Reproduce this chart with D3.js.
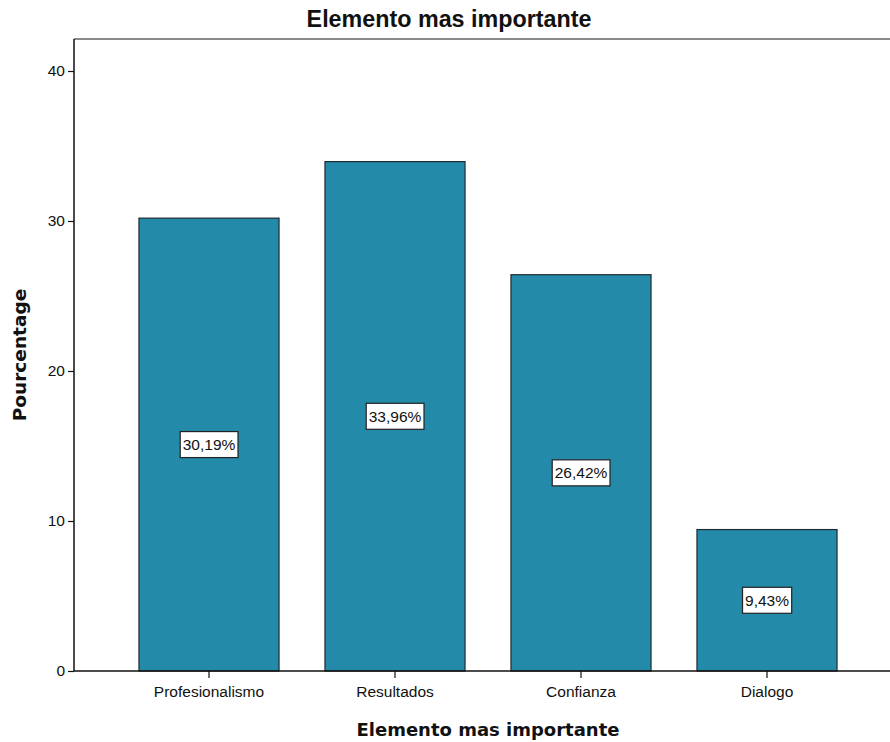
<!DOCTYPE html>
<html>
<head>
<meta charset="utf-8">
<script src="https://cdn.jsdelivr.net/npm/d3@7"></script>
<style>
  html, body { margin: 0; padding: 0; background: #fff; }
  svg { display: block; font-family: Arial, "Liberation Sans", sans-serif; }
</style>
</head>
<body>
<svg id="chart" width="890" height="742"></svg>
<script>
// Chart data
const categories = ["Profesionalismo", "Resultados", "Confianza", "Dialogo"];
const percentages = [30.19, 33.96, 26.42, 9.43];
const yTicks = [0, 10, 20, 30, 40];
const chartTitle = "Elemento mas importante";
const xTitle = "Elemento mas importante";
const yTitle = "Pourcentage";

const svg = d3.select("#chart");
const plot = { left: 74, right: 892, top: 39, bottom: 671 };
const bodyFont = "Arial, 'Liberation Sans', sans-serif";
const axisTitleFont = "'DejaVu Sans', Verdana, sans-serif";

const x = d3.scaleBand()
  .domain(categories)
  .range([116, 860])
  .paddingInner(0.247)
  .paddingOuter(0.1235);

const y = d3.scaleLinear()
  .domain([0, 40])
  .range([plot.bottom, 71]);

// Plot frame (top edge)
svg.append("line")
  .attr("x1", plot.left).attr("x2", plot.right)
  .attr("y1", plot.top).attr("y2", plot.top)
  .attr("stroke", "#8a8a8a").attr("stroke-width", 2);

// Bars
svg.append("g").selectAll("rect")
  .data(percentages)
  .join("rect")
  .attr("x", (d, i) => x(categories[i]))
  .attr("y", d => y(d))
  .attr("width", x.bandwidth())
  .attr("height", d => y(0) - y(d))
  .attr("fill", "#248aaa")
  .attr("stroke", "#1f2a30")
  .attr("stroke-width", 1.2);

// Value labels in boxes
const fmt = v => v.toFixed(2).replace(".", ",") + "%";
const labels = svg.append("g").selectAll("g")
  .data(percentages)
  .join("g")
  .attr("transform", (d, i) => `translate(${x(categories[i]) + x.bandwidth() / 2},${y(d / 2)})`);
labels.each(function(d) {
  const g = d3.select(this);
  const t = g.append("text")
    .attr("text-anchor", "middle")
    .attr("dy", "0.36em")
    .attr("font-size", 15.5)
    .attr("fill", "#111")
    .text(fmt(d));
  const bb = t.node().getBBox();
  g.insert("rect", "text")
    .attr("x", bb.x - 2.5).attr("y", -13)
    .attr("width", bb.width + 5).attr("height", 26)
    .attr("fill", "#fff")
    .attr("stroke", "#222").attr("stroke-width", 1.2);
});

// Y axis
const yAxis = svg.append("g")
  .attr("transform", `translate(${plot.left},0)`)
  .call(d3.axisLeft(y).tickValues(yTicks).tickSize(6).tickSizeOuter(0).tickPadding(3));
yAxis.select(".domain").attr("stroke", "#111").attr("stroke-width", 1.5)
  .attr("d", `M0,${plot.top}V${plot.bottom}`);
yAxis.selectAll(".tick line").attr("stroke", "#111").attr("stroke-width", 1.2);
yAxis.selectAll(".tick text").attr("font-size", 15.5).attr("fill", "#111")
  .attr("font-family", bodyFont);

// X axis
const xAxis = svg.append("g")
  .attr("transform", `translate(0,${plot.bottom})`)
  .call(d3.axisBottom(x).tickSize(7).tickSizeOuter(0).tickPadding(8));
xAxis.select(".domain").attr("stroke", "#111").attr("stroke-width", 1.5)
  .attr("d", `M${plot.left},0H${plot.right}`);
xAxis.selectAll(".tick line").attr("stroke", "#111").attr("stroke-width", 1.2);
xAxis.selectAll(".tick text").attr("font-size", 15.5).attr("fill", "#111")
  .attr("font-family", bodyFont);

// Titles
svg.append("text")
  .attr("x", 449).attr("y", 27)
  .attr("text-anchor", "middle")
  .attr("font-size", 23.3).attr("font-weight", "bold").attr("fill", "#111")
  .text(chartTitle);

svg.append("text")
  .attr("x", 488).attr("y", 736)
  .attr("text-anchor", "middle")
  .attr("font-family", axisTitleFont)
  .attr("font-size", 18).attr("font-weight", "bold").attr("fill", "#111")
  .text(xTitle);

svg.append("text")
  .attr("transform", `translate(26,${(plot.top + plot.bottom) / 2}) rotate(-90)`)
  .attr("text-anchor", "middle")
  .attr("font-family", axisTitleFont)
  .attr("font-size", 18.5).attr("font-weight", "bold").attr("fill", "#111")
  .text(yTitle);
</script>
</body>
</html>
